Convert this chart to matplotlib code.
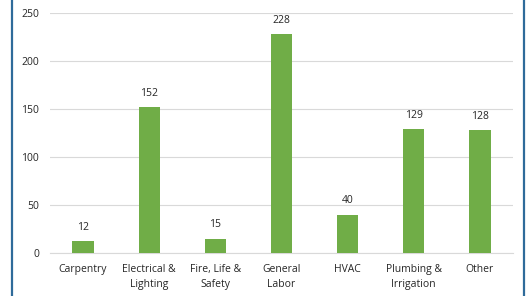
import matplotlib
matplotlib.use("Agg")
import matplotlib.pyplot as plt
from matplotlib.lines import Line2D

categories = ["Carpentry", "Electrical &\nLighting", "Fire, Life &\nSafety", "General\nLabor", "HVAC", "Plumbing &\nIrrigation", "Other"]
values = [12, 152, 15, 228, 40, 129, 128]
yticks = [0, 50, 100, 150, 200, 250]

plt.rcParams['font.family'] = ['Open Sans', 'DejaVu Sans']

W, H = 527, 296
fig = plt.figure(figsize=(W/100, H/100), dpi=100)
ax = fig.add_axes([50/W, 1-253/H, (513-50)/W, (253-13)/H])

x = range(len(categories))
bars = ax.bar(x, values, width=0.32, color="#70AD47", zorder=3)
for xi, v in zip(x, values):
    ax.annotate(str(v), (xi, v), xytext=(0, 6), textcoords="offset points",
                ha="center", va="bottom", fontsize=7.5, color="#262626")

ax.set_ylim(0, 250)
ax.set_xlim(-0.5, len(categories)-0.5)
ax.set_yticks(yticks)
ax.set_xticks(list(x))
ax.set_xticklabels(categories, fontsize=7.5, color="#262626", linespacing=1.5)
ax.tick_params(axis='y', labelsize=7.5, labelcolor="#262626", length=0, pad=8)
ax.tick_params(axis='x', length=0, pad=8)
ax.grid(axis='y', color="#D9D9D9", linewidth=0.8, zorder=0)
for s in ["top", "right", "left"]:
    ax.spines[s].set_visible(False)
ax.spines["bottom"].set_color("#D9D9D9")
ax.spines["bottom"].set_linewidth(0.8)

for px in (11.5, 524):
    fig.add_artist(Line2D([px/W, px/W], [0, 1], transform=fig.transFigure,
                          color="#2F6B9A", linewidth=1.6))

fig.savefig("out.png", dpi=100)
